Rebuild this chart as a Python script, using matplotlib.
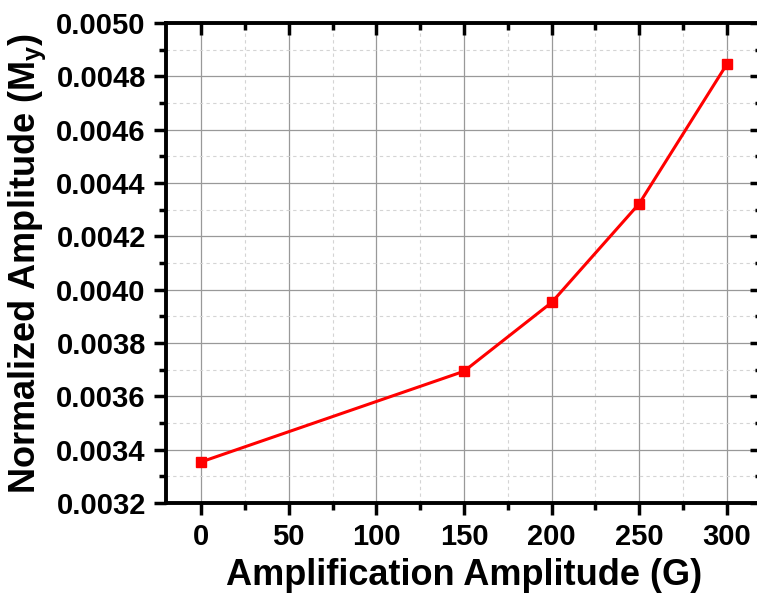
import numpy as np
import matplotlib.pyplot as plt
from matplotlib.ticker import MultipleLocator, FormatStrFormatter

amp = [0, 150, 200, 250, 300]
norm_amp = [0.003354, 0.003694, 0.003952, 0.004323, 0.004846]

plt.rcParams['font.family'] = 'Liberation Sans'
plt.rcParams['font.weight'] = 'bold'
plt.rcParams['mathtext.fontset'] = 'custom'
plt.rcParams['mathtext.rm'] = 'Liberation Sans:bold'
plt.rcParams['mathtext.it'] = 'Liberation Sans:bold'
plt.rcParams['mathtext.bf'] = 'Liberation Sans:bold'

pos = [166/757, 1-503/595, 596/757, 480/595]
fig = plt.figure(figsize=(7.57, 5.95), dpi=100)
ax = fig.add_axes(pos)

ax.plot(amp, norm_amp, color='red', lw=2.2, marker='s', ms=7.5, zorder=3)

ax.set_xlim(-20, 320)
ax.set_ylim(0.0032, 0.0050)
ax.xaxis.set_major_locator(MultipleLocator(50))
ax.xaxis.set_minor_locator(MultipleLocator(25))
ax.yaxis.set_major_locator(MultipleLocator(0.0002))
ax.yaxis.set_minor_locator(MultipleLocator(0.0001))
ax.yaxis.set_major_formatter(FormatStrFormatter('%.4f'))

ax.grid(which='major', color='#999999', lw=0.9, ls='-')
ax.grid(which='minor', color='#d4d4d4', lw=0.8, ls=(0, (3, 3)))
ax.set_axisbelow(True)

for s in ax.spines.values():
    s.set_linewidth(2.8)

ax.tick_params(which='both', direction='out', top=False, right=False, width=2.5)
ax.tick_params(which='major', length=8.5, labelsize=21, pad=6)
ax.tick_params(which='minor', length=5)

# overlay for the inward ticks on top and right
ov = fig.add_axes(pos, sharex=ax, sharey=ax, facecolor='none')
for s in ov.spines.values():
    s.set_visible(False)
ov.tick_params(which='both', direction='in', width=2.5, bottom=False, left=False,
               top=True, right=True, labelbottom=False, labelleft=False)
ov.tick_params(which='major', length=8.5)
ov.tick_params(which='minor', length=5)

ax.set_xlabel('Amplification Amplitude (G)', fontsize=26, fontweight='bold', labelpad=5)
ax.set_ylabel('Normalized Amplitude (M$_y$)', fontsize=26, fontweight='bold', labelpad=6)

fig.savefig('out.png', dpi=100)
